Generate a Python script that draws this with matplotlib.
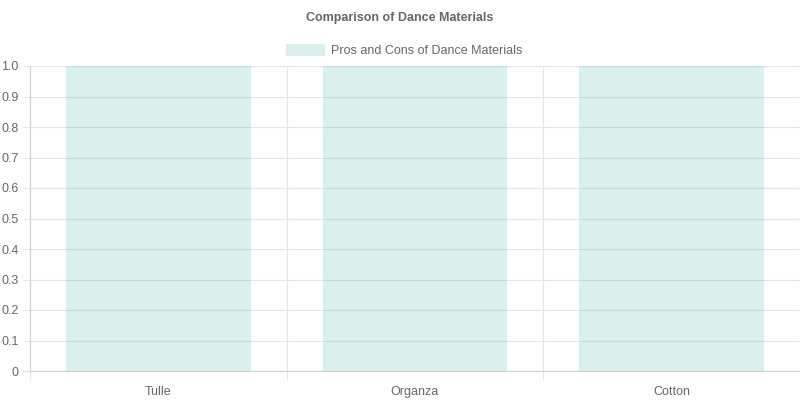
import matplotlib
matplotlib.use("Agg")
import matplotlib.pyplot as plt
from matplotlib.patches import Rectangle
import numpy as np

categories = ["Tulle", "Organza", "Cotton"]
values = [1, 1, 1]
series_label = "Pros and Cons of Dance Materials"
title = "Comparison of Dance Materials"
y_ticks = [0, 0.1, 0.2, 0.3, 0.4, 0.5, 0.6, 0.7, 0.8, 0.9, 1.0]
y_tick_labels = ["0", "0.1", "0.2", "0.3", "0.4", "0.5", "0.6", "0.7", "0.8", "0.9", "1.0"]

plt.rcParams['font.family'] = ['Liberation Sans', 'DejaVu Sans']
text_color = "#666666"
grid_color = "#e5e5e5"
bar_color = (65/255, 180/255, 165/255, 0.2)

fig = plt.figure(figsize=(8, 4), dpi=100)
ax = fig.add_axes([30/800, 29/400, 770/800, 305/400])

x = np.arange(len(categories))
ax.bar(x, values, width=0.72, color=bar_color, edgecolor='none', zorder=1)

ax.set_xlim(-0.5, len(categories) - 0.5)
ax.set_ylim(0, 1.0)

ax.set_yticks(y_ticks)
ax.set_yticklabels(y_tick_labels)
ax.set_xticks(x)
ax.set_xticklabels(categories)
ax.set_xticks(np.arange(len(categories) + 1) - 0.5, minor=True)

ax.tick_params(axis='x', which='major', length=0, pad=10.5, labelsize=9, labelcolor=text_color)
ax.tick_params(axis='x', which='minor', length=6.5, color=grid_color, width=0.8)
ax.tick_params(axis='y', which='major', length=5, color=grid_color, width=0.8, pad=3,
               labelsize=9, labelcolor=text_color)

ax.grid(True, axis='y', which='major', color=grid_color, linewidth=0.8, zorder=0)
ax.grid(True, axis='x', which='minor', color=grid_color, linewidth=0.8, zorder=0)
ax.set_axisbelow(True)

for side in ['top', 'right']:
    ax.spines[side].set_visible(False)
ax.spines['left'].set_color("#d0d0d0")
ax.spines['bottom'].set_color("#d0d0d0")
ax.spines['left'].set_linewidth(0.8)
ax.spines['bottom'].set_linewidth(0.8)

fig.text(0.5, 1 - 18/400, title, ha='center', va='center', fontsize=9,
         fontweight='bold', color=text_color)

# legend
fig.patches.append(Rectangle((286/800, 1 - 56/400), 39/800, 12/400,
                             transform=fig.transFigure, facecolor=bar_color,
                             edgecolor='none'))
fig.text(331/800, 1 - 51.5/400, series_label, ha='left', va='center', fontsize=9,
         color=text_color)

fig.savefig("out.png", dpi=100)
